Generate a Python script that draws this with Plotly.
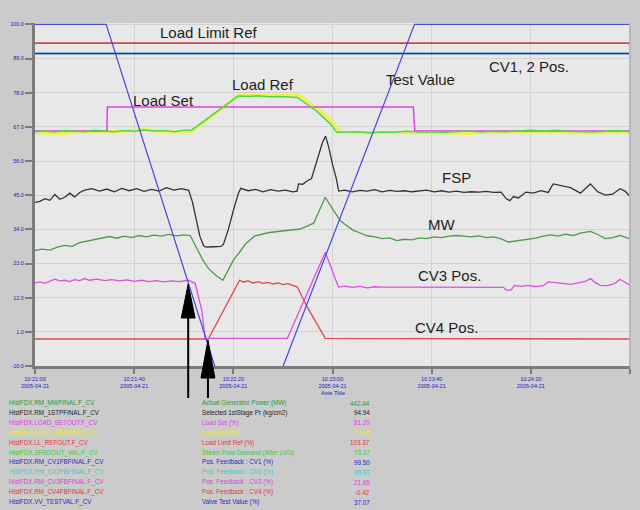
import plotly.graph_objects as go

# ---------------- data (time in s from 10:21:00, value in chart %) ----------------
fsp_t = [0, 2, 4, 6, 8, 10, 12, 14, 16, 18, 20, 23, 26, 29, 32, 35, 38, 41, 44, 47, 50, 53, 56, 59, 62,
         63.5, 65, 66.5, 68, 69, 72, 75, 76, 78, 80, 82, 83, 86, 89, 92, 95, 98, 101, 104, 105.7, 106.3,
         108, 110, 111.5, 113, 114.5, 116, 117.2, 118.5, 120, 121.5, 122.5, 125, 128, 131, 134, 137, 140,
         143, 146, 149, 152, 155, 158, 161, 164, 167, 170, 173, 176, 179, 182, 185, 188, 190, 191.5, 193,
         195, 198, 201, 204, 207, 209, 212, 216, 220, 224, 227, 230, 233, 236, 238, 240]
fsp_v = [47.9, 48.2, 49.0, 48.5, 50.2, 48.8, 49.4, 50.6, 49.5, 50.8, 51.5, 51.9, 51.2, 51.8, 51.0, 52.0, 51.3,
         51.9, 51.1, 51.7, 51.2, 52.2, 51.5, 51.9, 51.4,
         48.0, 43.0, 38.0, 35.2, 34.8, 34.9, 35.0, 35.6, 40.0, 45.5, 50.5, 52.0, 51.3, 51.7, 51.0, 51.6, 51.2,
         51.5, 51.0, 51.2, 53.3,
         53.2, 54.3, 54.8, 58.5, 62.0, 65.5, 67.3, 64.0, 59.0, 55.0, 51.2, 51.5, 51.0, 51.4, 51.2, 51.6, 51.0,
         51.4, 51.1, 51.3, 51.0, 51.2, 51.5, 51.0, 51.3, 50.9, 51.2, 50.8, 51.0, 50.9, 51.1, 50.8, 50.9, 49.0,
         48.4, 49.6, 49.2, 50.9, 50.6, 51.3, 50.8, 53.3, 52.8, 52.2, 50.6, 53.3, 51.0, 50.0, 50.3, 51.9, 51.2, 49.6]

mw_t = [0, 3, 6, 9, 12, 15, 18, 21, 24, 27, 30, 33, 36, 39, 42, 45, 48, 51, 54, 57, 60, 62.6, 65, 67.8, 70,
        73, 75.8, 78, 80, 82.5, 85, 88.5, 91, 94, 97, 100, 103, 107, 110, 112.4, 115, 117.1, 120, 123.1, 125,
        128.4, 131, 133.6, 137, 140, 143, 146, 149, 152, 155, 158, 161, 164, 167, 170, 173, 176, 179, 182,
        185, 188, 191, 193, 196, 199, 202, 205, 208, 211, 214, 217, 220, 224, 227, 230, 233, 236, 238, 240]
mw_v = [33.8, 34.2, 33.9, 34.8, 35.3, 35.0, 36.1, 36.5, 37.0, 37.5, 37.9, 37.4, 38.0, 37.6, 38.2, 37.8, 38.3,
        38.0, 38.5, 38.1, 38.4, 38.2, 35.0, 30.9, 28.5, 26.5, 25.1, 28.0, 31.0, 33.3, 35.8, 38.0, 38.5, 39.0,
        39.3, 39.6, 39.7, 40.1, 41.0, 41.8, 46.0, 49.4, 46.0, 42.6, 41.5, 39.7, 39.0, 38.2, 37.8, 37.3, 37.5,
        36.7, 37.1, 36.9, 37.5, 37.3, 37.8, 37.6, 38.0, 38.2, 38.0, 37.8, 38.1, 37.6, 37.8, 37.2, 36.3, 36.5,
        37.0, 37.2, 37.4, 38.0, 38.4, 38.0, 38.6, 38.2, 38.9, 39.4, 38.5, 37.3, 37.6, 38.2, 37.8, 37.2]

cv3_t = [0, 2, 4, 6, 8, 10, 12, 14, 16, 18, 20, 22, 25, 28, 31, 34, 37, 40, 43, 46, 49, 52, 55, 58, 61.9,
         64.6, 67.3, 68.6, 101.8, 117.1, 122.4, 125, 128, 131, 134, 137, 140, 150, 160, 170, 180, 189, 190,
         192, 193.4, 196, 199, 202, 205, 207, 210, 213, 216, 219, 222, 224.1, 226, 228, 231, 234, 236, 238, 240]
cv3_v = [24.3, 24.6, 24.2, 24.8, 25.4, 24.9, 25.1, 24.7, 25.3, 25.0, 25.6, 25.1, 25.4, 25.0, 25.3, 24.9, 25.2,
         24.8, 25.1, 24.7, 25.0, 24.6, 24.9, 24.7, 25.1, 24.2, 16.3, 8.1, 8.1, 33.3, 23.1, 23.4, 23.0, 23.3,
         22.9, 23.2, 23.1, 23.1, 23.1, 23.1, 23.1, 23.0, 22.2, 22.2, 23.6, 23.3, 23.6, 23.2, 23.5, 24.6, 24.4,
         24.2, 23.9, 24.3, 24.8, 25.6, 24.4, 23.6, 23.5, 24.2, 25.4, 24.5, 23.6]

cv4_t = [0, 69.9, 82.5, 84, 86, 88, 90, 92, 94, 96, 98, 100, 102, 104, 105.8, 110, 117.1, 240]
cv4_v = [7.9, 7.9, 25.1, 24.6, 24.9, 24.3, 24.7, 24.2, 24.5, 24.0, 24.3, 23.8, 24.1, 23.5, 23.1, 17.0, 8.1, 7.9]

sfd_t = [0, 4, 8, 12, 16, 20, 24, 28, 32, 36, 40, 44, 48, 52, 56, 60, 63.3, 81.9, 86, 90, 94, 98, 102, 105.8,
         113.6, 119.2, 121.7, 126, 130, 135, 140, 145, 150, 155, 160, 165, 170, 175, 180, 185, 190, 195, 200,
         205, 210, 215, 220, 225, 230, 235, 240]
sfd_v = [68.6, 68.8, 68.5, 68.9, 68.7, 68.6, 69.0, 68.8, 68.6, 68.9, 68.7, 69.1, 68.8, 68.9, 68.6, 69.0, 69.1,
         79.0, 78.9, 79.1, 78.8, 78.9, 78.7, 78.6, 74.6, 70.8, 68.4, 68.4, 68.6, 68.3, 68.5, 68.4, 68.7, 68.5,
         68.6, 68.4, 68.6, 68.8, 68.5, 68.7, 68.6, 68.9, 69.0, 68.8, 69.0, 68.7, 68.6, 68.5, 68.7, 68.9, 68.6]

lref_t = [0, 5, 10, 15, 20, 30, 40, 45, 50, 55, 58, 63.5, 82.5, 95, 106.5, 114, 120, 123.5, 140, 160, 175,
          180, 200, 220, 225, 240]
lref_v = [68.3, 68.1, 68.0, 68.4, 68.6, 68.5, 68.9, 69.2, 68.7, 68.4, 68.3, 68.8, 79.4, 79.3, 79.3, 75.3,
          71.5, 68.3, 68.4, 68.3, 68.1, 68.4, 68.5, 68.3, 68.2, 68.5]

lset_t = [0, 29.0, 29.2, 152.6, 153.2, 240]
lset_v = [68.8, 68.8, 75.8, 75.8, 68.8, 68.8]

llref_t = [0, 240]
llref_v = [94.5, 94.5]

cv1_t = [0, 240]
cv1_v = [91.5, 91.5]
cv2_v = [91.5, 91.5]

test_t = [0, 28.7, 72.5, 77, 95, 100.1, 153.1, 240]
test_v = [100, 100, 0, -10, -10, 0, 100, 100]

# axis labels
x_tickvals = [0, 40, 80, 120, 160, 200, 240]
x_times = ["10:21:00", "10:21:40", "10:22:20", "10:23:00", "10:23:40", "10:24:20", "10:25:00"]
x_date = "2005-04-21"
y_tickvals = [0, 10, 20, 30, 40, 50, 60, 70, 80, 90, 100]
y_ticktext = ["-10.0", "1.0", "12.0", "23.0", "34.0", "45.0", "56.0", "67.0", "78.0", "89.0", "100.0"]

# bottom pen table
pen_tags = ["HistFDX.RM_MWFINAL.F_CV", "HistFDX.RM_1STPFINAL.F_CV", "HistFDX.LOAD_SETOUT.F_CV",
            "HistFDX.LOAD_REFOUT.F_CV", "HistFDX.LL_REFOUT.F_CV", "HistFDX.SFRDOUT_VAL.F_CV",
            "HistFDX.RM_CV1FBFINAL.F_CV", "HistFDX.RM_CV2FBFINAL.F_CV", "HistFDX.RM_CV3FBFINAL.F_CV",
            "HistFDX.RM_CV4FBFINAL.F_CV", "HistFDX.VV_TESTVAL.F_CV"]
pen_desc = ["Actual Generator Power (MW)", "Selected 1stStage Pr (kg/cm2)", "Load Set (%)", "Load Ref (%)",
            "Load Limit Ref (%)", "Steam Flow Demand (After LVG)", "Pos. Feedback : CV1 (%)",
            "Pos. Feedback : CV2 (%)", "Pos. Feedback : CV3 (%)", "Pos. Feedback : CV4 (%)",
            "Valve Test Value (%)"]
pen_vals = ["442.44", "94.94", "81.20", "74.46", "103.37", "73.17", "99.50", "99.97", "21.65", "-0.42", "37.07"]
pen_cols = ["#2f9a2f", "#222222", "#e040e0", "#e8e830", "#e03838", "#3cc83c", "#2828c8", "#30d0d0",
            "#d840d8", "#e03838", "#2828c8"]

# ---------------- figure ----------------
W, H = 640, 510
ML, MR, MT, MB = 28, 10, 23, 144
PW, PH = W - ML - MR, H - MT - MB


def px(xp):
    return (xp - ML) / PW


def py(yp):
    return (H - MB - yp) / PH


fig = go.Figure()


def line(t, v, color, width=1.3):
    fig.add_trace(go.Scatter(x=t, y=v, mode="lines", line=dict(color=color, width=width),
                             hoverinfo="skip", showlegend=False))


line(lref_t, lref_v, "#f0f050", 3.2)
line(lset_t, lset_v, "#e040e0", 1.5)
line(sfd_t, sfd_v, "#4ed84e", 1.5)
line(llref_t, llref_v, "#d04848", 1.6)
line(cv1_t, cv2_v, "#30d0d0", 1.5)
line(cv1_t, cv1_v, "#2828b8", 1.5)
line(fsp_t, fsp_v, "#333333", 1.3)
line(mw_t, mw_v, "#4c9a4c", 1.3)
line(cv4_t, cv4_v, "#e04848", 1.3)
line(cv3_t, cv3_v, "#dc50dc", 1.3)
line(test_t, test_v, "#4646dc", 1.2)

main_font = "Liberation Sans, Arial, sans-serif"
label_font = dict(family=main_font, size=15, color="#1e1e1e")
chart_labels = [
    ("Load Limit Ref", 49.8, 97.6),
    ("Load Set", 38.7, 77.8),
    ("Load Ref", 78.8, 82.4),
    ("Test Value", 140.7, 84.0),
    ("CV1, 2 Pos.", 182.2, 87.8),
    ("FSP", 163.4, 55.3),
    ("MW", 157.8, 41.3),
    ("CV3 Pos.", 153.5, 26.4),
    ("CV4 Pos.", 152.3, 11.3),
]
annotations = []
for txt, tx, ty in chart_labels:
    annotations.append(dict(text=txt, x=tx, y=ty, xref="x", yref="y", xanchor="left", yanchor="middle",
                            showarrow=False, font=label_font))

annotations.append(dict(text="Axis Title", x=px(330), y=py(393), xref="paper", yref="paper",
                        xanchor="center", yanchor="middle", showarrow=False,
                        font=dict(family=main_font, size=6, color="#2020c0")))

for i in range(len(pen_tags)):
    yy = py(403 + 9.9 * i)
    f = dict(family=main_font, size=6.3, color=pen_cols[i])
    annotations.append(dict(text=pen_tags[i], x=px(0), y=yy, xref="paper", yref="paper", xanchor="left",
                            yanchor="middle", showarrow=False, font=f))
    annotations.append(dict(text=pen_desc[i], x=px(195), y=yy, xref="paper", yref="paper", xanchor="left",
                            yanchor="middle", showarrow=False, font=f))
    annotations.append(dict(text=pen_vals[i], x=px(369), y=yy, xref="paper", yref="paper", xanchor="right",
                            yanchor="middle", showarrow=False, font=f))

shapes = [
    # right frame line
    dict(type="line", xref="paper", yref="paper", x0=px(630), x1=px(630), y0=py(366), y1=py(22),
         line=dict(color="#b8b8b8", width=2)),
    # arrow 1
    dict(type="line", xref="paper", yref="paper", x0=px(183), x1=px(183), y0=py(398), y1=py(316),
         line=dict(color="black", width=2)),
    dict(type="path", xref="paper", yref="paper", fillcolor="black", line=dict(color="black", width=1),
         path=f"M {px(183)} {py(284)} L {px(176)} {py(318)} L {px(190)} {py(318)} Z"),
    # arrow 2
    dict(type="line", xref="paper", yref="paper", x0=px(203), x1=px(203), y0=py(398), y1=py(376),
         line=dict(color="black", width=2)),
    dict(type="path", xref="paper", yref="paper", fillcolor="black", line=dict(color="black", width=1),
         path=f"M {px(203)} {py(340)} L {px(196)} {py(378)} L {px(210)} {py(378)} Z"),
]

fig.update_layout(
    width=W, height=H,
    margin=dict(l=ML, r=MR, t=MT, b=MB, pad=0),
    paper_bgcolor="#cbcbcb",
    plot_bgcolor="#e8e8e8",
    showlegend=False,
    annotations=annotations,
    shapes=shapes,
    xaxis=dict(range=[0, 240], tickvals=x_tickvals,
               ticktext=[f"{a}<br>{x_date}" for a in x_times],
               showgrid=True, gridcolor="#d2d2d2", gridwidth=1, zeroline=False,
               showline=True, linecolor="#7c7c7c", linewidth=3,
               ticks="outside", ticklen=5, tickwidth=2, tickcolor="#7c7c7c",
               tickfont=dict(family=main_font, size=5.5, color="#2020c0")),
    yaxis=dict(range=[0, 100.4], tickvals=y_tickvals, ticktext=y_ticktext,
               showgrid=True, gridcolor="#d2d2d2", gridwidth=1, zeroline=False,
               showline=True, linecolor="#7c7c7c", linewidth=3,
               ticks="outside", ticklen=7, tickwidth=2, tickcolor="#7c7c7c",
               tickfont=dict(family=main_font, size=5.5, color="#2020c0")),
)

fig.write_html("out.html")
